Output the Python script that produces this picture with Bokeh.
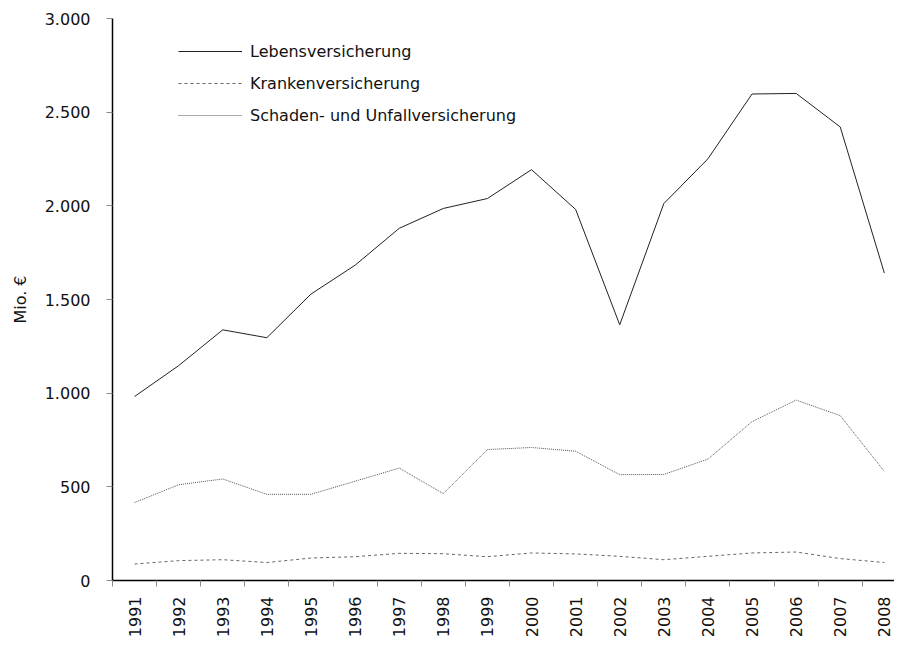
import math
from bokeh.plotting import figure
from bokeh.models import Range1d, FixedTicker, Legend, LegendItem
from bokeh.embed import file_html
from bokeh.resources import INLINE

years = ["1991", "1992", "1993", "1994", "1995", "1996", "1997", "1998", "1999",
         "2000", "2001", "2002", "2003", "2004", "2005", "2006", "2007", "2008"]
leben = [982, 1147, 1338, 1296, 1529, 1683, 1880, 1986, 2039, 2193, 1981, 1365,
         2012, 2251, 2597, 2600, 2421, 1641]
kranken = [88, 106, 111, 96, 120, 127, 145, 143, 127, 147, 142, 129, 111, 129,
           147, 152, 117, 96]
schaden = [416, 511, 542, 460, 460, 530, 600, 464, 699, 710, 690, 565, 566, 648,
           848, 963, 880, 582]
y_ticks = [0, 500, 1000, 1500, 2000, 2500, 3000]
y_tick_labels = ["0", "500", "1.000", "1.500", "2.000", "2.500", "3.000"]
y_title = "Mio. €"

FONT = "DejaVu Sans"
xs = list(range(len(years)))

p = figure(frame_width=782, frame_height=562, output_backend="svg", toolbar_location=None,
           x_range=Range1d(-0.5, 17.23), y_range=Range1d(0, 3000),
           min_border_left=112, min_border_top=18, min_border_right=0,
           min_border_bottom=10)
p.outline_line_color = None
p.xgrid.grid_line_color = None
p.ygrid.grid_line_color = None

r1 = p.line(xs, leben, line_color="#222222", line_width=1)
r2 = p.line(xs, kranken, line_color="#666666", line_width=1, line_dash="3 3")
r3 = p.line(xs, schaden, line_color="#555555", line_width=1, line_dash="1 1")

# x axis: labels at category centres, tick marks between categories
xa = p.xaxis[0]
xa.ticker = FixedTicker(ticks=xs, minor_ticks=[i - 0.5 for i in range(len(years) + 1)])
xa.major_label_overrides = {i: y for i, y in enumerate(years)}
xa.major_label_orientation = math.pi / 2
xa.major_tick_out = 0
xa.major_tick_in = 0
xa.minor_tick_out = 6
xa.minor_tick_in = 0
xa.minor_tick_line_color = "#888888"
xa.major_label_standoff = 10
xa.axis_line_color = "#000000"
xa.axis_line_width = 1.5
xa.major_label_text_font = FONT
xa.major_label_text_font_size = "16px"
xa.major_label_text_color = "#111111"

ya = p.yaxis[0]
ya.ticker = FixedTicker(ticks=y_ticks, minor_ticks=[])
ya.major_label_overrides = {t: l for t, l in zip(y_ticks, y_tick_labels)}
ya.major_tick_out = 6
ya.major_tick_in = 0
ya.major_tick_line_color = "#888888"
ya.minor_tick_out = 0
ya.minor_tick_in = 0
ya.major_label_standoff = 16
ya.axis_line_color = "#000000"
ya.axis_line_width = 1.5
ya.major_label_text_font = FONT
ya.major_label_text_font_size = "16px"
ya.major_label_text_color = "#111111"
ya.axis_label = y_title
ya.axis_label_text_font = FONT
ya.axis_label_text_font_size = "16px"
ya.axis_label_text_font_style = "normal"
ya.axis_label_text_color = "#111111"
ya.axis_label_standoff = 12

legend = Legend(items=[
    LegendItem(label="Lebensversicherung", renderers=[r1]),
    LegendItem(label="Krankenversicherung", renderers=[r2]),
    LegendItem(label="Schaden- und Unfallversicherung", renderers=[r3]),
], location=(66, 455), border_line_color=None, background_fill_alpha=0,
    padding=0, margin=0, spacing=12, glyph_width=64, glyph_height=20,
    label_standoff=8, label_text_font=FONT, label_text_font_size="16px",
    label_text_color="#111111")
p.add_layout(legend)

open("out.html", "w").write(file_html(p, INLINE))
